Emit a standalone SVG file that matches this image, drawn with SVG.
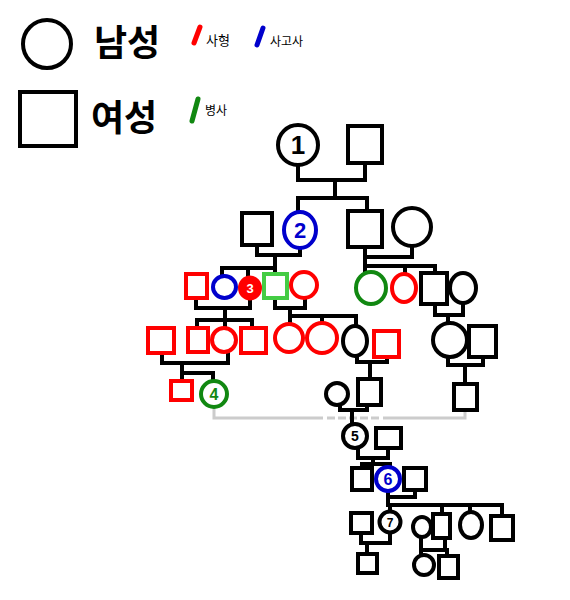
<svg xmlns="http://www.w3.org/2000/svg" width="570" height="600" viewBox="0 0 570 600">
<style>
  .k{fill:#fff;stroke:#000;stroke-width:4}
  .r{fill:#fff;stroke:#ff0000;stroke-width:4}
  .b{fill:#fff;stroke:#0000cc;stroke-width:4}
  .g{fill:#fff;stroke:#118811;stroke-width:4}
  .lg{fill:#fff;stroke:#44cc44;stroke-width:4}
  .ln{fill:none;stroke:#000;stroke-width:4;stroke-linejoin:miter;stroke-linecap:square}
  .gl{fill:none;stroke:#cccccc;stroke-width:3}
  .t{font-family:"Noto Sans CJK KR","Noto Sans",sans-serif}
  .num{font-family:"Liberation Sans","DejaVu Sans",sans-serif;font-weight:bold;text-anchor:middle}
  .sl{stroke-width:5;stroke-linecap:round}
</style>
<rect width="570" height="600" fill="#fff"/>
<g id="legend">
  <circle cx="47" cy="44" r="24" class="k"/>
  <text x="94" y="56" class="t" font-size="36" font-weight="bold">남성</text>
  <rect x="20" y="92" width="56" height="54" class="k"/>
  <text x="91" y="131" class="t" font-size="36" font-weight="bold">여성</text>
  <line x1="200" y1="27" x2="194" y2="43" stroke="#ff0000" class="sl"/>
  <text x="206" y="45" class="t" font-size="13">사형</text>
  <line x1="263" y1="28" x2="257" y2="45" stroke="#0000cc" class="sl"/>
  <text x="270" y="46" class="t" font-size="12">사고사</text>
  <line x1="198" y1="99" x2="192" y2="121" stroke="#118811" class="sl"/>
  <text x="205" y="115" class="t" font-size="12">병사</text>
</g>
<g id="connectors">
  <polyline class="ln" points="298,165 298,180 365,180 365,163"/>
  <line class="ln" x1="335" y1="180" x2="335" y2="198"/>
  <polyline class="ln" points="298,211 298,198 367,198 367,211"/>
  <polyline class="ln" points="257,245 257,255 300,255 300,248"/>
  <line class="ln" x1="275" y1="255" x2="275" y2="268"/>
  <polyline class="ln" points="222,276 222,268 275,268 275,273"/>
  <line class="ln" x1="248" y1="268" x2="248" y2="277"/>
  <polyline class="ln" points="196,298 196,308 250,308 250,299"/>
  <line class="ln" x1="225" y1="308" x2="225" y2="320"/>
  <polyline class="ln" points="197,327 197,320 252,320 252,327"/>
  <line class="ln" x1="225" y1="320" x2="225" y2="328"/>
  <polyline class="ln" points="162,353 162,363 228,363 228,352"/>
  <line class="ln" x1="182" y1="363" x2="182" y2="380"/>
  <polyline class="ln" points="182,373 213,373 213,381"/>
  <polyline class="ln" points="275,298 275,308 305,308 305,298"/>
  <line class="ln" x1="290" y1="308" x2="290" y2="316"/>
  <polyline class="ln" points="290,324 290,316 356,316 356,326"/>
  <line class="ln" x1="322" y1="316" x2="322" y2="323"/>
  <polyline class="ln" points="357,356 357,362 387,362 387,357"/>
  <line class="ln" x1="370" y1="362" x2="370" y2="379"/>
  <polyline class="ln" points="365,247 365,257 412,257 412,246"/>
  <polyline class="ln" points="365,257 365,272"/>
  <polyline class="ln" points="365,266 435,266 435,273"/>
  <line class="ln" x1="405" y1="266" x2="405" y2="274"/>
  <polyline class="ln" points="435,304 435,315 463,315 463,303"/>
  <line class="ln" x1="448" y1="315" x2="448" y2="323"/>
  <polyline class="ln" points="448,357 448,365 483,365 483,357"/>
  <line class="ln" x1="465" y1="365" x2="465" y2="384"/>
  <polyline class="gl" points="214,407 214,418 323,418"/>
  <line class="gl" x1="327" y1="418" x2="381" y2="418" stroke-dasharray="8,3"/>
  <polyline class="gl" points="383,418 465,418 465,410"/>
  <polyline class="ln" points="340,405 340,410 367,410 367,405"/>
  <line class="ln" x1="352" y1="410" x2="352" y2="424"/>
  <polyline class="ln" points="358,448 358,458 388,458 388,448"/>
  <line class="ln" x1="373" y1="458" x2="373" y2="464"/>
  <polyline class="ln" points="362,468 362,464 390,464 390,467"/>
  <polyline class="ln" points="388,491 388,497 415,497 415,490"/>
  <line class="ln" x1="388" y1="497" x2="388" y2="505"/>
  <polyline class="ln" points="390,512 390,505 502,505 502,516"/>
  <line class="ln" x1="442" y1="505" x2="442" y2="514"/>
  <line class="ln" x1="470" y1="505" x2="470" y2="512"/>
  <polyline class="ln" points="361,533 361,543 390,543 390,533"/>
  <line class="ln" x1="367" y1="543" x2="367" y2="554"/>
  <polyline class="ln" points="421,537 421,555"/>
  <polyline class="ln" points="421,550 445,550 445,538"/>
  <line class="ln" x1="447" y1="550" x2="447" y2="556"/>
</g>
<g id="n1"><circle cx="298" cy="145" r="20" class="k"/><text x="298" y="154" class="num" font-size="26">1</text></g>
<g id="n1sp"><rect x="348" y="126" width="34" height="37" class="k"/></g>
<g id="n2sp"><rect x="242" y="213" width="30" height="32" class="k"/></g>
<g id="n2"><ellipse cx="300" cy="230" rx="16" ry="18" class="b"/><text x="300" y="238" class="num" font-size="22" fill="#0000cc">2</text></g>
<g id="n2b"><rect x="348" y="211" width="34" height="36" class="k"/></g>
<g id="n2bsp"><circle cx="412" cy="227" r="19" class="k"/></g>
<g id="n3a"><rect x="186" y="274" width="21" height="24" class="r"/></g>
<g id="n3b"><ellipse cx="224.5" cy="287" rx="11.5" ry="11" class="b"/></g>
<g id="n3"><ellipse cx="250" cy="288" rx="10" ry="10.5" fill="#ff0000" stroke="#ff0000" stroke-width="4"/><text x="250" y="293" class="num" font-size="13" fill="#fff">3</text></g>
<g id="n3c"><rect x="264" y="274" width="23" height="24" class="lg"/></g>
<g id="n3d"><circle cx="304" cy="285" r="13" class="r"/></g>
<g id="n3e"><ellipse cx="371" cy="288" rx="15" ry="16" class="g"/></g>
<g id="n3f"><ellipse cx="404" cy="288" rx="12" ry="14" class="r"/></g>
<g id="n3g"><rect x="421" y="273" width="26" height="31" class="k"/></g>
<g id="n3h"><ellipse cx="463" cy="288" rx="13" ry="15" class="k"/></g>
<g id="n4a"><rect x="148" y="328" width="26" height="25" class="r"/></g>
<g id="n4b"><rect x="188" y="328" width="20" height="24" class="r"/></g>
<g id="n4c"><circle cx="224" cy="340" r="12" class="r"/></g>
<g id="n4d"><rect x="241" y="328" width="25" height="25" class="r"/></g>
<g id="n4e"><circle cx="289" cy="338" r="14" class="r"/></g>
<g id="n4f"><circle cx="322" cy="338" r="15" class="r"/></g>
<g id="n4g"><ellipse cx="355" cy="341" rx="12" ry="15" class="k"/></g>
<g id="n4h"><rect x="374" y="331" width="25" height="26" class="r"/></g>
<g id="n4i"><circle cx="450" cy="340" r="17" class="k"/></g>
<g id="n4j"><rect x="469" y="326" width="27" height="31" class="k"/></g>
<g id="n5a"><rect x="171" y="381" width="21" height="19" class="r"/></g>
<g id="n4"><circle cx="214" cy="394" r="13" class="g"/><text x="214" y="400" class="num" font-size="16" fill="#118811">4</text></g>
<g id="n5b"><circle cx="337" cy="394" r="11" class="k"/></g>
<g id="n5c"><rect x="358" y="379" width="23" height="26" class="k"/></g>
<g id="n5d"><rect x="454" y="384" width="23" height="26" class="k"/></g>
<g id="n5"><circle cx="355" cy="436" r="12" class="k"/><text x="355" y="441" class="num" font-size="14">5</text></g>
<g id="n5sp"><rect x="376" y="428" width="25" height="20" class="k"/></g>
<g id="n7a"><rect x="352" y="468" width="20" height="22" class="k"/></g>
<g id="n6"><circle cx="388" cy="479" r="12" class="b"/><text x="388" y="485" class="num" font-size="16" fill="#0000cc">6</text></g>
<g id="n6sp"><rect x="404" y="468" width="22" height="22" class="k"/></g>
<g id="n8a"><rect x="351" y="513" width="21" height="20" class="k"/></g>
<g id="n7"><circle cx="390" cy="522" r="10.5" class="k"/><text x="390" y="527" class="num" font-size="12" font-weight="normal">7</text></g>
<g id="n8b"><ellipse cx="422" cy="527" rx="9" ry="10" class="k"/></g>
<g id="n8c"><rect x="433" y="514" width="17" height="24" class="k"/></g>
<g id="n8d"><ellipse cx="471" cy="525" rx="11" ry="13" class="k"/></g>
<g id="n8e"><rect x="491" y="516" width="22" height="24" class="k"/></g>
<g id="n9a"><rect x="358" y="554" width="19" height="19" class="k"/></g>
<g id="n9b"><circle cx="424" cy="565" r="10" class="k"/></g>
<g id="n9c"><rect x="439" y="556" width="19" height="22" class="k"/></g>
</svg>
